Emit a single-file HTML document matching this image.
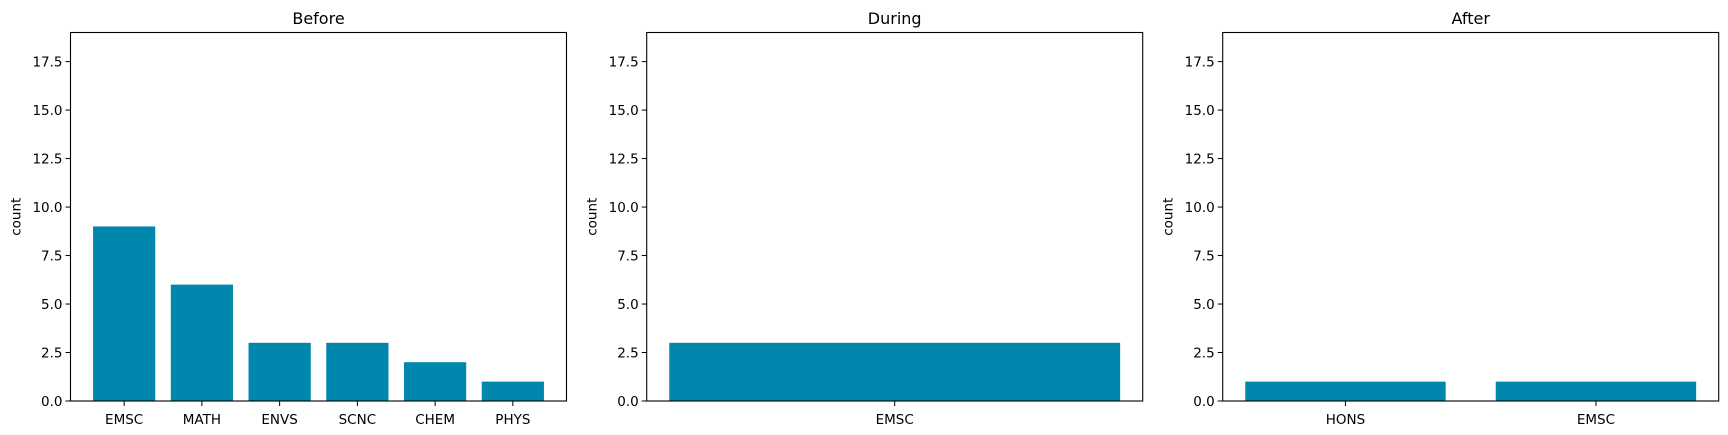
<!DOCTYPE html>
<html><head><meta charset="utf-8"><style>
html,body{margin:0;padding:0;background:#fff;}
svg{display:block;font-family:"DejaVu Sans","Liberation Sans",sans-serif;}
</style></head><body>
<svg id="chart" width="1728" height="435"></svg>
<script>
const beforeCats = ["EMSC","MATH","ENVS","SCNC","CHEM","PHYS"];
const beforeVals = [9,6,3,3,2,1];
const duringCats = ["EMSC"];
const duringVals = [3];
const afterCats = ["HONS","EMSC"];
const afterVals = [1,1];
const titles = ["Before","During","After"];
const yTicks = [0,2.5,5,7.5,10,12.5,15,17.5];
const yTickLabels = ["0.0","2.5","5.0","7.5","10.0","12.5","15.0","17.5"];
const yMax = 19;

const NS="http://www.w3.org/2000/svg";
const svgEl=document.getElementById('chart');
function mk(tag,attrs,parent){const e=document.createElementNS(NS,tag);for(const k in attrs)e.setAttribute(k,attrs[k]);(parent||svgEl).appendChild(e);return e;}
const panels=[{cats:beforeCats,vals:beforeVals,left:70.5},{cats:duringCats,vals:duringVals,left:646.7},{cats:afterCats,vals:afterVals,left:1222.7}];
const PW=496, plotTop=32.5, plotBottom=401, PH=plotBottom-plotTop;
panels.forEach((p,i)=>{
  const g=mk('g',{});
  
  
  const n=p.cats.length;
  const lo=-0.4-0.05*(n-1+0.8), hi=n-1+0.4+0.05*(n-1+0.8);
  const xs=v=>p.left+(v-lo)/(hi-lo)*PW;
  const ys=v=>plotBottom-v/yMax*PH;
  p.vals.forEach((v,j)=>{
    const b=mk('rect',{x:xs(j-0.4),y:ys(v),width:xs(j+0.4)-xs(j-0.4),height:ys(0)-ys(v),fill:'#0087ad'},g);
    
    
    mk('line',{x1:xs(j),x2:xs(j),y1:plotBottom,y2:plotBottom+5,stroke:'#000','stroke-width':1},g);
    const t=mk('text',{x:xs(j),y:plotBottom+23,'text-anchor':'middle','font-size':13.5,fill:'#000'},g);
    t.textContent=p.cats[j];
    
    
  });
  yTicks.forEach((v,k)=>{
    mk('line',{x1:p.left-5,x2:p.left,y1:ys(v),y2:ys(v),stroke:'#000','stroke-width':1},g);
    const t=mk('text',{x:p.left-8,y:ys(v)+5,'text-anchor':'end','font-size':13.5,fill:'#000'},g);
    t.textContent=yTickLabels[k];
    
    
  });
  const fr=mk('rect',{x:p.left,y:plotTop,width:PW,height:PH,fill:'none',stroke:'#000','stroke-width':1.1},g);
  
  
  const tt=mk('text',{x:p.left+PW/2,y:24,'text-anchor':'middle','font-size':16,fill:'#000'},g);
  tt.textContent=titles[i];
  
  
  const yl=mk('text',{x:0,y:0,'text-anchor':'middle','font-size':13.5,fill:'#000',transform:`translate(${p.left-50},${plotTop+PH/2}) rotate(-90)`},g);
  yl.textContent='count';
  
  
});
</script>
</body></html>
